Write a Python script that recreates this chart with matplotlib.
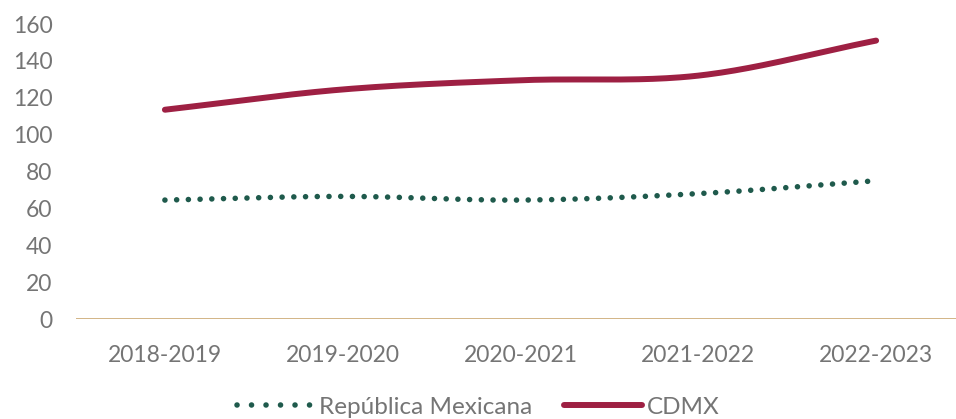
import numpy as np
import matplotlib
matplotlib.use("Agg")
import matplotlib.pyplot as plt
from matplotlib.lines import Line2D

# Data
periods = ["2018-2019", "2019-2020", "2020-2021", "2021-2022", "2022-2023"]
republica = [64.5, 66.5, 64.5, 68, 75]
cdmx = [113.5, 124.5, 129.5, 132, 151]

plt.rcParams["font.family"] = ["Lato", "DejaVu Sans"]

GREEN = "#1f5a4c"
WINE = "#9e2043"
GOLD = "#c59f62"
GRAY = "#757575"
DOTS = (0, (0.01, 2.1))


def smooth(xs, ys, n=40):
    """Catmull-Rom style smoothing, like a spreadsheet 'smoothed line'."""
    xs = np.asarray(xs, float)
    ys = np.asarray(ys, float)
    px = np.concatenate([[2 * xs[0] - xs[1]], xs, [2 * xs[-1] - xs[-2]]])
    py = np.concatenate([[2 * ys[0] - ys[1]], ys, [2 * ys[-1] - ys[-2]]])
    out_x, out_y = [], []
    t = np.linspace(0, 1, n)
    for i in range(1, len(px) - 2):
        b0x, b0y = px[i], py[i]
        b3x, b3y = px[i + 1], py[i + 1]
        b1x = b0x + (px[i + 1] - px[i - 1]) / 6
        b1y = b0y + (py[i + 1] - py[i - 1]) / 6
        b2x = b3x - (px[i + 2] - px[i]) / 6
        b2y = b3y - (py[i + 2] - py[i]) / 6
        bx = (1 - t) ** 3 * b0x + 3 * (1 - t) ** 2 * t * b1x + 3 * (1 - t) * t ** 2 * b2x + t ** 3 * b3x
        by = (1 - t) ** 3 * b0y + 3 * (1 - t) ** 2 * t * b1y + 3 * (1 - t) * t ** 2 * b2y + t ** 3 * b3y
        out_x.extend(bx if i == 1 else bx[1:])
        out_y.extend(by if i == 1 else by[1:])
    return np.array(out_x), np.array(out_y)


fig = plt.figure(figsize=(9.56, 4.19), dpi=100)
ax = fig.add_axes([76 / 956, 1 - 319 / 419, (965 - 76) / 956, (319 - 24) / 419])

x = np.arange(len(periods))

# República Mexicana, dotted
sx, sy = smooth(x, republica)
ax.plot(sx, sy, color=GREEN, linewidth=4.0, linestyle=DOTS,
        dash_capstyle="round")

# CDMX, solid
sx, sy = smooth(x, cdmx)
ax.plot(sx, sy, color=WINE, linewidth=4.3, solid_capstyle="round")

ax.axhline(0, color=GOLD, linewidth=1.8, zorder=1)

ax.set_xlim(-0.5, 4.5)
ax.set_ylim(0, 160)
ax.set_yticks(range(0, 161, 20))
ax.set_xticks(x)
ax.set_xticklabels(periods)
ax.tick_params(axis="both", length=0, labelsize=16.5, colors=GRAY)
ax.tick_params(axis="y", pad=17)
ax.tick_params(axis="x", pad=19)
for s in ax.spines.values():
    s.set_visible(False)

handles = [
    Line2D([], [], color=GREEN, linewidth=4.0, linestyle=(0, (0.01, 2.6)),
           dash_capstyle="round"),
    Line2D([], [], color=WINE, linewidth=4.3, solid_capstyle="round"),
]
fig.legend(handles, ["República Mexicana", "CDMX"], loc="center",
           bbox_to_anchor=(478 / 956, 1 - 407 / 419), ncol=2, frameon=False,
           fontsize=17.5, labelcolor=GRAY, handlelength=3.2, handletextpad=0.2,
           columnspacing=1.3, borderpad=0.2)

fig.savefig("out.png", dpi=100)
